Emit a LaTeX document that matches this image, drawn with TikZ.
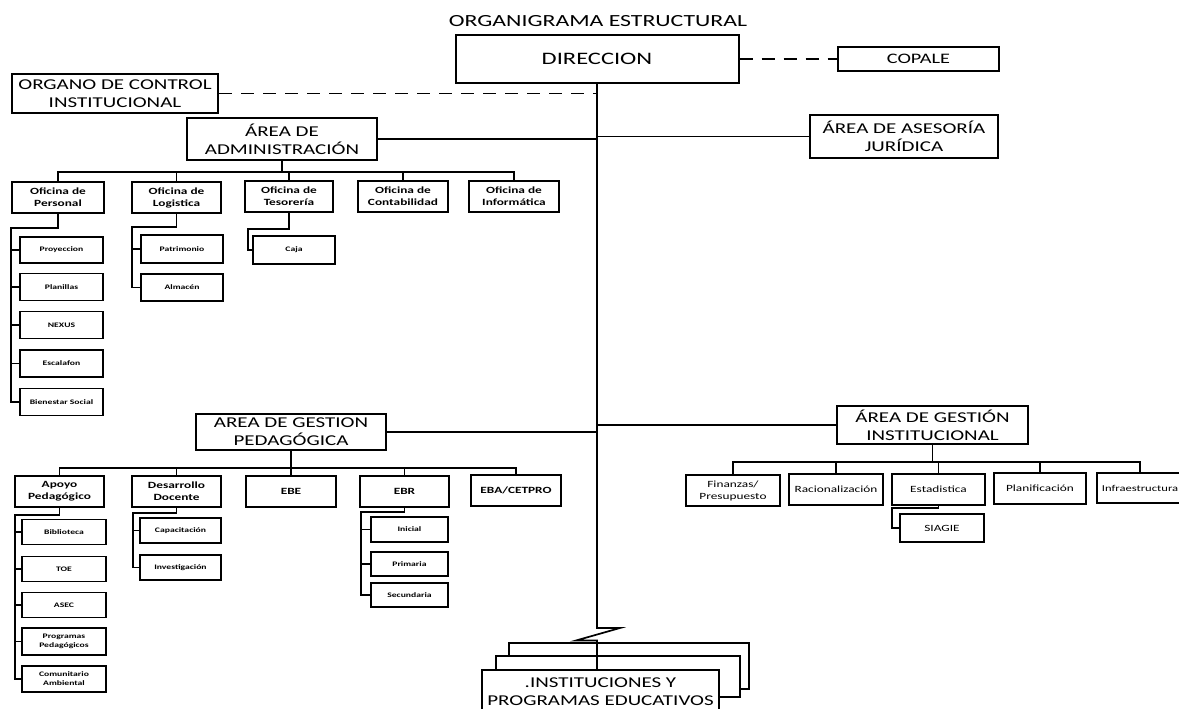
\documentclass[tikz,border=0pt]{standalone}
\usepackage{fontspec}
\setmainfont{Carlito}[FakeStretch=1.4]
\begin{document}
\begin{tikzpicture}[x=1pt,y=-1pt,
  box/.style={draw, line width=1.9pt, inner sep=1pt, align=center},
  big/.style={box, line width=2pt, font=\fontsize{15}{18}\selectfont},
  off/.style={box, font=\bfseries\fontsize{9.5}{12}\selectfont},
  gic/.style={box, font=\fontsize{9.5}{12}\selectfont},
  sml/.style={box, font=\bfseries\fontsize{6.9}{9}\selectfont},
  lnk/.style={line width=1.7pt},
  dsh/.style={line width=1.7pt, dash pattern=on 13pt off 9pt}]
\clip (0,0) rectangle (1179,709);
\fill[white] (0,0) rectangle (1179,709);

% top level
\node[font=\fontsize{17}{20}\selectfont] (title) at (598,21) {ORGANIGRAMA ESTRUCTURAL};
\node[big, minimum width=283, minimum height=48, font=\fontsize{17.5}{20}\selectfont] (dir) at (597,59) {DIRECCION};
\node[big, minimum width=161, minimum height=24, font=\fontsize{14.5}{17}\selectfont] (cop) at (918.5,59) {COPALE};
\node[big, minimum width=206, minimum height=39] (oci) at (115,93.5) {ORGANO DE CONTROL\\INSTITUCIONAL};
\node[big, minimum width=190, minimum height=42] (adm) at (282,139) {ÁREA DE\\ADMINISTRACIÓN};
\node[big, minimum width=188, minimum height=43] (jur) at (904,136.5) {ÁREA DE ASESORÍA\\JURÍDICA};
\node[big, minimum width=190, minimum height=36] (gp) at (291,432) {AREA DE GESTION\\PEDAGÓGICA};
\node[big, minimum width=191, minimum height=38] (gi) at (932.5,425) {ÁREA DE GESTIÓN\\INSTITUCIONAL};

% offices
\node[off, minimum width=92, minimum height=31] (per) at (58,197.5) {Oficina de\\Personal};
\node[off, minimum width=89, minimum height=31] (log) at (176.5,197.5) {Oficina de\\Logistica};
\node[off, minimum width=88, minimum height=31] (tes) at (289,196.5) {Oficina de\\Tesorería};
\node[off, minimum width=90, minimum height=31] (con) at (403,196.5) {Oficina de\\Contabilidad};
\node[off, minimum width=90, minimum height=31] (inf) at (514,196.5) {Oficina de\\Informática};

% personal subs
\node[sml, minimum width=83, minimum height=26] (pro) at (61.5,250) {Proyeccion};
\node[sml, minimum width=83, minimum height=27] (pla) at (61.5,287) {Planillas};
\node[sml, minimum width=83, minimum height=27] (nex) at (61.5,325) {NEXUS};
\node[sml, minimum width=83, minimum height=27] (esc) at (61.5,363.5) {Escalafon};
\node[sml, minimum width=83, minimum height=27] (bie) at (61.5,402) {Bienestar Social};
% logistica subs
\node[sml, minimum width=82, minimum height=28] (pat) at (182,249) {Patrimonio};
\node[sml, minimum width=82, minimum height=27] (alm) at (182,287.5) {Almacén};
% tesoreria subs
\node[sml, minimum width=82, minimum height=28] (caj) at (294,250) {Caja};

% pedagogica children
\node[off, minimum width=89, minimum height=31] (apo) at (59.5,491.5) {Apoyo\\Pedagógico};
\node[off, minimum width=89, minimum height=31] (des) at (176.5,491.5) {Desarrollo\\Docente};
\node[off, minimum width=90, minimum height=31] (ebe) at (291,491.5) {EBE};
\node[off, minimum width=89, minimum height=31] (ebr) at (404.5,491.5) {EBR};
\node[off, minimum width=90, minimum height=31] (eba) at (516,490.5) {EBA/CETPRO};

\node[sml, minimum width=84, minimum height=25] (bib) at (64,532) {Biblioteca};
\node[sml, minimum width=84, minimum height=25] (toe) at (64,569) {TOE};
\node[sml, minimum width=84, minimum height=25] (asc) at (64,605) {ASEC};
\node[sml, minimum width=84, minimum height=27] (prg) at (64,641.5) {Programas\\Pedagógicos};
\node[sml, minimum width=84, minimum height=26] (com) at (64,679) {Comunitario\\Ambiental};

\node[sml, minimum width=81, minimum height=25] (cap) at (180.5,530.5) {Capacitación};
\node[sml, minimum width=81, minimum height=25] (inv) at (180.5,567.5) {Investigación};

\node[sml, minimum width=77, minimum height=25] (ini) at (409.5,529.5) {Inicial};
\node[sml, minimum width=77, minimum height=24] (pri) at (409.5,564) {Primaria};
\node[sml, minimum width=77, minimum height=24] (sec) at (409.5,595) {Secundaria};

% institucional children
\node[gic, minimum width=94, minimum height=31] (fin) at (733,490.5) {Finanzas/\\Presupuesto};
\node[gic, minimum width=94, minimum height=31] (rac) at (836,489.5) {Racionalización};
\node[gic, minimum width=93, minimum height=31] (est) at (938.5,489.5) {Estadistica};
\node[gic, minimum width=92, minimum height=31] (pln) at (1040,488.5) {Planificación};
\node[gic, minimum width=86, minimum height=30, font=\fontsize{9}{11}\selectfont] (ifr) at (1140,488) {Infraestructura};
\node[gic, minimum width=84, minimum height=28] (sia) at (942,528) {SIAGIE};

% instituciones stack
\node[box, line width=2pt, fill=white, minimum width=240, minimum height=46] (ipc) at (629,666) {};
\node[box, line width=2pt, fill=white, minimum width=244, minimum height=41] (ipb) at (618,676.5) {};
\node[big, fill=white, minimum width=237, minimum height=44] (ipe) at (600.5,692) {.INSTITUCIONES Y\\PROGRAMAS EDUCATIVOS};

% main spine with break
\coordinate (zz1) at (597,628);
\coordinate (zz2) at (620,628);
\coordinate (zz3) at (576,640.5);
\coordinate (zz4) at (597,640.5);
\draw[lnk] (dir.south) -- (zz1) -- (zz2) -- (zz3) -- (zz4) -- (ipe.north -| zz4);

% dashed staff links
\draw[dsh] (dir.east) -- (cop.west);
\draw[dsh] (oci.east) -- (oci.east -| dir.south);

% solid links to spine
\draw[lnk] (adm.east) -- (adm.east -| dir.south);
\draw[lnk] (jur.west) -- (jur.west -| dir.south);
\draw[lnk] (gp.east) -- (gp.east -| dir.south);
\draw[lnk] (gi.west) -- (gi.west -| dir.south);

% administracion bus
\coordinate (ab) at (282,172);
\draw[lnk] (adm.south) -- (ab);
\draw[lnk] (per.north) -- (per.north |- ab) -- (inf.north |- ab) -- (inf.north);
\foreach \n in {log,tes,con} \draw[lnk] (\n.north) -- (\n.north |- ab);

% personal spine
\coordinate (ps) at (11,228);
\draw[lnk] (per.south) |- (ps) -- (ps |- bie.west) -- (bie.west);
\foreach \n in {pro,pla,nex,esc} \draw[lnk] (ps |- \n.west) -- (\n.west);
% logistica spine
\coordinate (ls) at (132,227);
\draw[lnk] (log.south) |- (ls) -- (ls |- alm.west) -- (alm.west);
\draw[lnk] (ls |- pat.west) -- (pat.west);
% tesoreria spine
\coordinate (ts) at (248,229);
\draw[lnk] (tes.south) |- (ts) -- (ts |- caj.west) -- (caj.west);

% pedagogica bus
\coordinate (gb) at (291,468);
\draw[lnk] (gp.south) -- (gb);
\draw[lnk] (apo.north) -- (apo.north |- gb) -- (eba.north |- gb) -- (eba.north);
\foreach \n in {des,ebe,ebr} \draw[lnk] (\n.north) -- (\n.north |- gb);

\coordinate (as) at (15,515);
\draw[lnk] (apo.south) |- (as) -- (as |- com.west) -- (com.west);
\foreach \n in {bib,toe,asc,prg} \draw[lnk] (as |- \n.west) -- (\n.west);

\coordinate (ds) at (133,513);
\draw[lnk] (des.south) |- (ds) -- (ds |- inv.west) -- (inv.west);
\draw[lnk] (ds |- cap.west) -- (cap.west);

\coordinate (es) at (361,512);
\draw[lnk] (ebr.south) |- (es) -- (es |- sec.west) -- (sec.west);
\foreach \n in {ini,pri} \draw[lnk] (es |- \n.west) -- (\n.west);

% institucional bus
\coordinate (ib) at (932.5,462);
\draw[lnk] (gi.south) -- (ib);
\draw[lnk] (fin.north) -- (fin.north |- ib) -- (ifr.north |- ib) -- (ifr.north);
\foreach \n in {rac,est,pln} \draw[lnk] (\n.north) -- (\n.north |- ib);

\coordinate (ss) at (892,508);
\draw[lnk] (est.south) |- (ss) -- (ss |- sia.west) -- (sia.west);
\end{tikzpicture}
\end{document}
